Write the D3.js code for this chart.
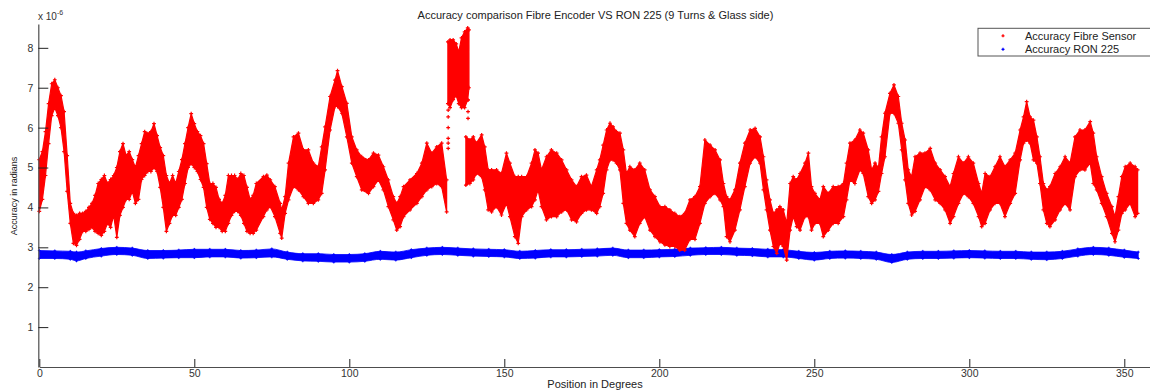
<!DOCTYPE html>
<html>
<head>
<meta charset="utf-8">
<script src="https://cdn.jsdelivr.net/npm/d3@7"></script>
<style>
  html, body { margin: 0; padding: 0; background: #fff; }
  svg { display: block; font-family: "Liberation Sans", Arial, sans-serif; }
</style>
</head>
<body>
<svg id="chart" width="1150" height="391"></svg>
<script>
// Fibre sensor accuracy band (x 1e-6 rad): lower / upper envelope per position (degrees)
const fibreDeg = [0,1,2,3,4,5,6,7,8,9,10,11,12,13,14,15,16,17,18,19,20,21,22,23,24,25,26,27,28,29,30,31,32,33,34,35,36,37,38,39,40,41,42,43,44,45,46,47,48,49,50,51,52,53,54,55,56,57,58,59,60,61,62,63,64,65,66,67,68,69,70,72.3,73.4,74.5,76,77.7,78.2,79.3,80.4,82,83.6,85.2,86.8,88.4,90,91.1,92.2,93.8,95.4,96.2,97.6,99.2,100.8,102.4,104,106.2,107.8,109.4,111,112.6,114.2,115.3,116.4,117.5,119.6,121.8,123.4,125,126.6,128.2,129.8,131.4,134,137.6,138.9,140,141,142.7,143.7,144.8,145.9,147.5,149.1,150.7,151.8,153.4,154.5,155.6,157.2,158.8,159.9,160.9,162,163.6,165.2,166.9,168.5,170.1,171.7,173.3,174.9,176.5,178.1,179.8,180.8,181.9,183,184.1,185.1,186.2,187.3,188.4,189.4,190.5,192.1,193.7,195.3,197,198.6,200.2,201.8,203.4,205,206.6,208.2,209.9,211.5,213.1,214.7,216.4,218,219.6,220.7,221.7,222.8,224.4,226,227.6,229.3,230.9,232.5,233.6,234.6,235.7,236.8,237.9,238.9,240,241.1,242.2,243.2,244.3,245.4,247,248.1,249.1,250.2,251.8,252.9,254.5,256.1,257.7,259.4,260.4,261.5,263.1,264.7,265.8,267.4,268.5,269.6,270.7,271.7,272.8,274.4,275.7,277.1,278.2,279.3,280.3,281.4,282.5,284.1,285.7,287.4,289,290.6,292.2,293.8,294.9,296.5,298.1,299.7,301.3,303,304,305.1,306.7,308.3,309.9,311.5,313.2,314.8,316.4,317.5,318.5,319.6,320.7,321.8,322.8,323.9,325,326,327.7,329.3,330.9,332.5,334.1,335.7,337.3,339,340,341.1,342.7,344.3,346,347,348.1,349.2,350.3,351.9,353.5,354.3];
const fibreLow = [3.9,4.2,4.8,5.6,6.3,6.5,6.3,6.0,5.4,4.4,3.6,3.1,3.05,3.2,3.4,3.4,3.45,3.5,3.4,3.35,3.3,3.4,3.6,3.5,3.8,3.25,3.8,4.0,4.2,4.2,4.4,4.1,4.2,4.7,4.8,4.9,4.9,5.0,4.9,4.5,4.0,3.4,3.6,3.8,3.8,4.0,4.2,4.6,5.0,5.1,5.0,4.9,4.7,4.5,4.0,3.7,3.6,3.5,3.5,3.4,3.4,3.6,3.8,3.9,3.9,3.8,3.6,3.4,3.35,3.35,3.43,3.77,3.94,4.02,3.77,3.35,3.23,3.85,4.19,4.52,4.44,4.27,4.10,4.10,4.19,4.35,4.94,5.94,6.53,6.53,6.36,5.77,5.11,4.77,4.44,4.35,4.52,4.69,4.44,4.02,3.69,3.43,3.52,3.77,3.94,4.10,4.27,4.44,4.52,4.60,4.52,3.89,NaN,4.56,4.60,4.69,4.85,4.77,4.44,3.94,3.89,4.02,3.81,4.10,3.77,3.27,3.10,3.77,3.94,4.02,4.19,4.44,4.02,3.69,3.77,3.77,3.89,3.94,3.69,3.64,3.85,3.94,3.94,3.85,4.02,4.35,4.94,5.19,5.19,5.11,4.94,4.10,3.60,3.43,3.27,3.60,3.77,3.43,3.27,3.14,3.06,3.02,3.02,2.93,2.93,3.2,3.2,3.60,4.10,4.27,4.35,4.19,4.02,3.27,3.14,3.43,3.94,4.52,5.11,5.27,5.11,4.44,3.94,3.43,3.02,2.85,3.10,3.02,2.68,3.43,3.77,3.52,3.43,3.77,3.77,3.43,3.60,3.60,3.27,3.43,3.60,3.60,3.77,4.19,4.69,4.60,4.94,4.85,4.27,4.10,4.19,4.4,4.85,5.27,6.36,6.36,6.11,5.44,4.69,4.10,3.81,3.9,4.19,4.52,4.44,4.19,4.10,3.94,3.60,3.77,4.10,4.35,4.27,4.10,3.77,3.52,3.60,3.94,4.10,4.10,3.77,4.10,4.35,5.19,5.61,5.69,5.61,5.19,5.11,4.60,3.94,3.60,3.52,3.69,3.94,4.10,3.94,4.77,4.94,4.94,5.11,4.60,4.44,4.10,3.77,3.35,3.14,3.43,3.85,3.94,4.10,3.77,3.85];
const fibreHigh = [5.2,5.4,5.9,6.6,7.1,7.2,7.0,6.8,6.4,5.3,4.1,3.85,3.8,3.85,3.85,3.9,4.0,4.1,4.3,4.6,4.7,4.8,4.6,4.7,4.8,5.0,5.4,5.6,5.3,5.4,5.2,5.0,5.3,5.6,5.9,5.85,5.9,6.1,5.8,5.5,5.3,4.8,4.6,4.8,4.6,4.9,5.2,5.6,6.0,6.35,6.1,5.9,5.8,5.6,5.1,4.6,4.6,4.5,4.2,4.1,4.3,4.8,4.8,4.8,4.7,4.85,4.8,4.5,4.2,4.3,4.60,4.77,4.81,4.69,4.52,4.10,3.94,4.27,5.11,5.77,5.86,5.44,5.44,5.11,5.02,5.52,6.02,6.78,7.19,7.43,7.03,6.61,5.77,5.44,5.27,5.19,5.36,5.31,5.02,4.69,4.27,4.10,4.27,4.52,4.69,4.85,5.11,5.61,5.36,5.52,5.61,4.69,NaN,5.77,5.69,5.77,5.61,5.82,5.52,4.94,4.94,4.94,4.85,5.36,5.11,4.77,4.77,4.77,4.77,5.11,5.44,5.36,4.94,5.27,5.44,5.36,5.19,4.94,4.69,4.52,4.77,4.81,4.52,4.94,5.19,5.56,5.94,6.11,6.02,5.90,5.86,5.44,4.85,5.02,4.94,5.11,4.94,4.44,4.27,4.02,4.02,3.94,3.85,3.77,3.85,4.19,4.27,4.52,5.69,5.56,5.44,5.19,4.60,4.27,4.19,4.44,5.11,5.61,5.94,5.98,5.77,5.27,4.69,4.19,3.85,3.94,4.02,3.94,3.60,4.60,4.77,4.69,4.85,5.11,5.36,4.52,4.35,4.19,4.52,4.35,4.52,4.52,4.60,5.11,5.61,5.69,5.94,5.86,5.44,4.94,5.11,5.0,5.77,6.36,6.86,7.07,6.78,6.11,5.69,4.94,4.77,5.27,5.36,5.36,5.48,5.11,4.94,4.77,4.52,4.85,5.27,5.11,5.27,5.11,4.60,4.35,4.85,4.77,5.02,5.27,5.02,5.19,5.36,5.94,6.27,6.65,6.27,6.19,5.77,5.27,4.60,4.44,4.52,4.85,5.02,5.27,5.11,5.77,5.94,5.94,6.15,5.86,5.27,4.77,4.35,4.02,3.77,4.27,4.77,5.02,5.11,5.02,4.94];

// Burst of high readings between ~132 and ~139 degrees
const burstDeg  = [131.8,132.5,133.5,134.5,135.3,136.2,137.2,138.2,138.6];
const burstLow  = [6.6,6.5,6.7,6.8,6.6,6.5,6.5,6.7,7.0];
const burstHigh = [8.15,8.2,8.2,8.1,7.9,8.25,8.4,8.5,8.45];

// Isolated fibre readings trailing below the burst
const strayDeg = [131.9,131.9,131.9,131.9,131.9,131.9,138.3,138.3,138.3];
const strayVal = [6.44,6.27,6.0,5.73,5.61,5.48,6.69,6.4,6.23];

// RON 225 reference encoder accuracy band (x 1e-6 rad)
const ronDeg  = [0,5,10,12,15,20,25,30,35,40,45,50,55,60,65,70,75,80,85,90,95,100,105,110,115,120,125,130,135,140,145,150,155,160,165,170,175,180,185,190,195,200,205,210,215,220,225,230,235,240,245,250,255,260,265,270,275,280,285,290,295,300,305,310,315,320,325,330,335,340,345,350,354.5];
const ronLow  = [2.72,2.72,2.70,2.66,2.72,2.78,2.82,2.80,2.72,2.73,2.74,2.74,2.76,2.76,2.73,2.74,2.76,2.70,2.66,2.65,2.63,2.63,2.65,2.70,2.68,2.74,2.80,2.82,2.80,2.78,2.77,2.76,2.72,2.73,2.76,2.76,2.77,2.78,2.80,2.74,2.74,2.76,2.77,2.80,2.82,2.82,2.80,2.79,2.76,2.76,2.72,2.68,2.72,2.73,2.72,2.70,2.62,2.70,2.72,2.72,2.73,2.74,2.73,2.72,2.72,2.70,2.69,2.72,2.78,2.82,2.80,2.75,2.72];
const ronHigh = [2.92,2.91,2.90,2.88,2.91,2.97,3.00,2.98,2.92,2.92,2.93,2.95,2.95,2.95,2.92,2.93,2.96,2.88,2.84,2.84,2.82,2.82,2.84,2.90,2.88,2.94,2.98,3.00,2.98,2.96,2.95,2.94,2.90,2.92,2.94,2.94,2.95,2.96,2.98,2.93,2.93,2.94,2.95,2.98,2.99,3.00,2.98,2.97,2.95,2.94,2.90,2.87,2.90,2.91,2.90,2.88,2.82,2.88,2.90,2.90,2.91,2.92,2.91,2.90,2.90,2.88,2.88,2.90,2.96,3.00,2.98,2.93,2.88];

const xTicks = [0,50,100,150,200,250,300,350];
const yTicks = [1,2,3,4,5,6,7,8];

const titleText = "Accuracy comparison Fibre Encoder VS RON 225 (9 Turns & Glass side)";
const xLabel = "Position in Degrees";
const yLabel = "Accuracy in radians";
const legendItems = [
  { name: "Accuracy Fibre Sensor", color: "#ff0000" },
  { name: "Accuracy RON 225", color: "#0000ff" }
];

const svg = d3.select("#chart");
const x = d3.scaleLinear().domain([0, 360]).range([39.3, 1155.3]);
const y = d3.scaleLinear().domain([0, 8.6]).range([367, 23.9]);

const crossPath = "M-1.9,0H1.9M0,-1.9V1.9";
const smallCross = "M-1.4,0H1.4M0,-1.4V1.4";

// Reference encoder band
const ronIdx = d3.range(ronDeg.length);
svg.append("path")
  .attr("d", d3.area().x(i => x(ronDeg[i])).y0(i => y(ronLow[i])).y1(i => y(ronHigh[i])).curve(d3.curveMonotoneX)(ronIdx))
  .attr("fill", "#0000ff").attr("stroke", "#0000ff").attr("stroke-width", 0.8).attr("stroke-linejoin", "round");
svg.append("g").selectAll("path").data(ronIdx.flatMap(i => [[ronDeg[i], ronLow[i]], [ronDeg[i], ronHigh[i]]]))
  .join("path").attr("d", smallCross)
  .attr("transform", d => `translate(${x(d[0])},${y(d[1])})`)
  .attr("stroke", "#0000ff").attr("stroke-width", 1);

// Fibre sensor band
const fibreIdx = d3.range(fibreDeg.length);
const fibreArea = d3.area()
  .defined(i => !isNaN(fibreLow[i]))
  .x(i => x(fibreDeg[i])).y0(i => y(fibreLow[i])).y1(i => y(fibreHigh[i]));
svg.append("path").attr("d", fibreArea(fibreIdx))
  .attr("fill", "#ff0000").attr("stroke", "#ff0000").attr("stroke-width", 1.2).attr("stroke-linejoin", "round");

const burstIdx = d3.range(burstDeg.length);
svg.append("path")
  .attr("d", d3.area().x(i => x(burstDeg[i])).y0(i => y(burstLow[i])).y1(i => y(burstHigh[i]))(burstIdx))
  .attr("fill", "#ff0000").attr("stroke", "#ff0000").attr("stroke-width", 1.2).attr("stroke-linejoin", "round");

const fibreMarks = fibreIdx.filter(i => !isNaN(fibreLow[i]))
  .flatMap(i => [[fibreDeg[i], fibreLow[i]], [fibreDeg[i], fibreHigh[i]]])
  .concat(burstIdx.flatMap(i => [[burstDeg[i], burstLow[i]], [burstDeg[i], burstHigh[i]]]))
  .concat(strayDeg.map((d, i) => [d, strayVal[i]]));
svg.append("g").selectAll("path").data(fibreMarks)
  .join("path").attr("d", crossPath)
  .attr("transform", d => `translate(${x(d[0])},${y(d[1])})`)
  .attr("stroke", "#ff0000").attr("stroke-width", 1.2);

// Axes
const axisColor = "#4d4d4d";
const xAxis = svg.append("g").attr("transform", `translate(0,${y(0)})`)
  .call(d3.axisBottom(x).tickValues(xTicks).tickSizeInner(-8).tickSizeOuter(0).tickPadding(3));
const yAxis = svg.append("g").attr("transform", `translate(${x(0) - 1},0)`)
  .call(d3.axisLeft(y).tickValues(yTicks).tickSizeInner(-10).tickSizeOuter(0).tickPadding(5));
[xAxis, yAxis].forEach(g => {
  g.select(".domain").attr("stroke", axisColor).attr("stroke-width", 1.2);
  g.selectAll(".tick line").attr("stroke", "#222").attr("stroke-width", 1);
  g.selectAll(".tick text").attr("fill", "#333").style("font-size", "10.5px")
    .style("font-family", "'Liberation Sans', Arial, sans-serif");
});

// Exponent marker above the y axis
const expo = svg.append("text").attr("x", 38).attr("y", 20).attr("fill", "#333")
  .style("font-size", "10px");
expo.append("tspan").text("x 10");
expo.append("tspan").attr("dy", -5).style("font-size", "7px").text("-6");

// Title and axis labels
svg.append("text").attr("x", 595.5).attr("y", 19).attr("text-anchor", "middle")
  .attr("fill", "#222").style("font-size", "11px").text(titleText);
svg.append("text").attr("x", 595).attr("y", 388).attr("text-anchor", "middle")
  .attr("fill", "#222").style("font-size", "11px").text(xLabel);
svg.append("text").attr("transform", "translate(16.5,196) rotate(-90)").attr("text-anchor", "middle")
  .attr("fill", "#222").style("font-size", "9px").text(yLabel);

// Legend
const legend = svg.append("g");
legend.append("rect").attr("x", 978).attr("y", 28.3).attr("width", 190).attr("height", 27.7)
  .attr("fill", "#fff").attr("stroke", "#555").attr("stroke-width", 1);
legendItems.forEach((it, i) => {
  const cy = 35.8 + i * 13.5;
  legend.append("path").attr("d", "M-1.5,0H1.5M0,-1.5V1.5")
    .attr("transform", `translate(1003,${cy})`).attr("stroke", it.color).attr("stroke-width", 1.3);
  legend.append("text").attr("x", 1025).attr("y", cy + 4).attr("fill", "#222")
    .style("font-size", "11px").text(it.name);
});
</script>
</body>
</html>
